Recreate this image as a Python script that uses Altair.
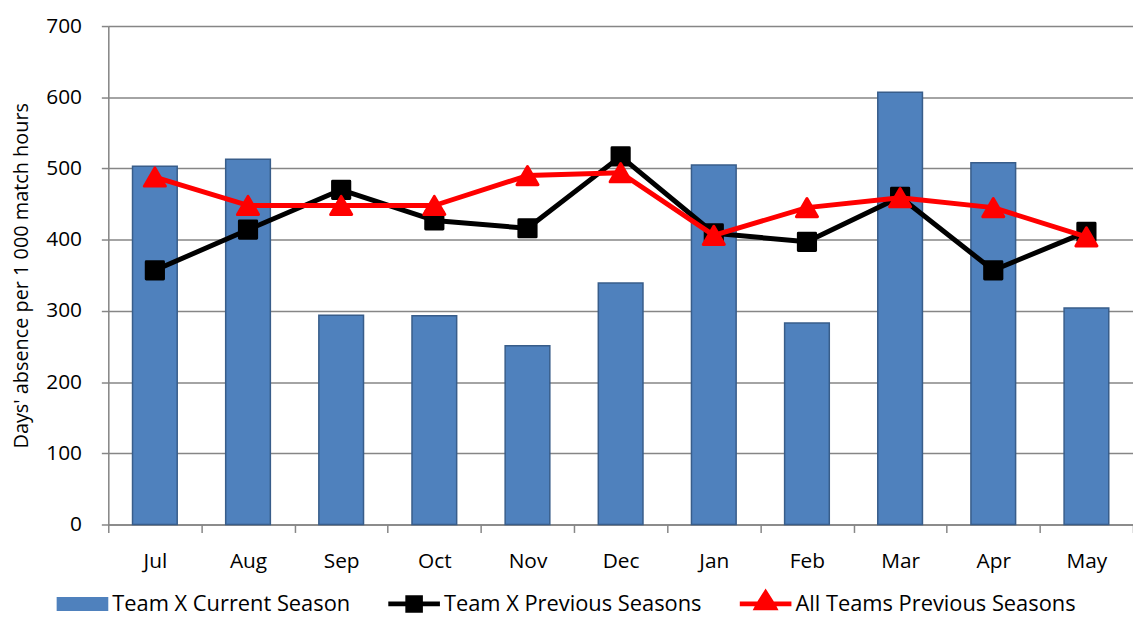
import altair as alt
import pandas as pd

months = ["Jul", "Aug", "Sep", "Oct", "Nov", "Dec", "Jan", "Feb", "Mar", "Apr", "May"]
current = [503, 513, 294, 293, 251, 339, 505, 283, 607, 508, 304]
team_prev = [357, 414, 470, 427, 416, 517, 409, 397, 460, 357, 411]
all_prev = [488, 448, 448, 448, 490, 494, 406, 445, 459, 445, 404]

series_names = ["Team X Current Season", "Team X Previous Seasons", "All Teams Previous Seasons"]
series_colors = ["#4f81bd", "#000000", "#ff0000"]
legend_paths = [
    "M-1,-0.27H1V0.27H-1Z",
    "M-1,-0.09H-0.34V-0.34H0.34V-0.09H1V0.09H0.34V0.34H-0.34V0.09H-1Z",
    "M-1,-0.09H-0.32L0,-0.6L0.32,-0.09H1V0.09H0.42L0.5,0.24H-0.5L-0.42,0.09H-1Z",
]

FONT = "Open Sans"

df_bar = pd.DataFrame({"month": months, "value": current})
df_team = pd.DataFrame({"month": months, "value": team_prev})
df_all = pd.DataFrame({"month": months, "value": all_prev})
df_leg = pd.DataFrame({"series": series_names})

x_enc = alt.X(
    "month:N",
    sort=months,
    scale=alt.Scale(type="band", paddingInner=0, paddingOuter=0),
    axis=alt.Axis(
        title=None,
        tickBand="extent",
        tickSize=8,
        tickColor="#868686",
        domainColor="#868686",
        domainWidth=1.5,
        tickWidth=1.5,
        labelFontSize=21,
        labelFont=FONT,
        labelColor="#000000",
        labelPadding=18,
        labelAngle=0,
        grid=False,
    ),
)
y_scale = alt.Scale(domain=[0, 700], nice=False)
y_axis = alt.Axis(
    title="Days' absence per 1 000 match hours",
    titleFont=FONT,
    titleFontSize=20,
    titleFontWeight="normal",
    titleColor="#000000",
    titlePadding=14,
    values=[0, 100, 200, 300, 400, 500, 600, 700],
    tickSize=7,
    tickColor="#868686",
    tickWidth=1.5,
    domainColor="#868686",
    domainWidth=1.5,
    gridColor="#868686",
    gridWidth=1.5,
    labelFontSize=21,
    labelFont=FONT,
    labelColor="#000000",
    labelPadding=20,
)

bars = alt.Chart(df_bar).mark_bar(
    size=45, color="#4f81bd", stroke="#385d8a", strokeWidth=1.5
).encode(x=x_enc, y=alt.Y("value:Q", scale=y_scale, axis=y_axis))

team_line = alt.Chart(df_team).mark_line(
    color="#000000", strokeWidth=5, strokeJoin="round"
).encode(x=x_enc, y=alt.Y("value:Q", scale=y_scale))
team_pts = alt.Chart(df_team).mark_point(
    shape="square", filled=True, color="#000000", size=300, opacity=1,
    stroke="#000000", strokeWidth=3, strokeJoin="round"
).encode(x=x_enc, y=alt.Y("value:Q", scale=y_scale))

all_line = alt.Chart(df_all).mark_line(
    color="#ff0000", strokeWidth=5, strokeJoin="round"
).encode(x=x_enc, y=alt.Y("value:Q", scale=y_scale))
all_pts = alt.Chart(df_all).mark_point(
    shape="triangle-up", filled=True, color="#ff0000", size=450, opacity=1,
    stroke="#ff0000", strokeWidth=3, strokeJoin="round"
).encode(x=x_enc, y=alt.Y("value:Q", scale=y_scale))

legend_cfg = alt.Legend(
    title=None,
    orient="none",
    direction="horizontal",
    legendX=-52,
    legendY=556,
    symbolSize=2704,
    labelFont=FONT,
    labelFontSize=22,
    labelColor="#000000",
    labelOffset=4,
    labelLimit=600,
    columnPadding=38,
    symbolStrokeWidth=0,
)
legend_layer = alt.Chart(df_leg).mark_point(filled=True, opacity=1).encode(
    color=alt.Color("series:N", scale=alt.Scale(domain=series_names, range=series_colors), legend=legend_cfg),
    shape=alt.Shape("series:N", scale=alt.Scale(domain=series_names, range=legend_paths), legend=legend_cfg),
).transform_filter("false")

chart = alt.layer(bars, team_line, team_pts, all_line, all_pts, legend_layer).properties(
    width=1032,
    height=502,
    autosize=alt.AutoSizeParams(type="none"),
    padding={"left": 101, "top": 16, "right": 0, "bottom": 94},
).configure_view(fill="#e6e6e6", stroke=None).configure(background="#ffffff")

chart.save("out.html", embed_options={"renderer": "svg", "actions": False})
